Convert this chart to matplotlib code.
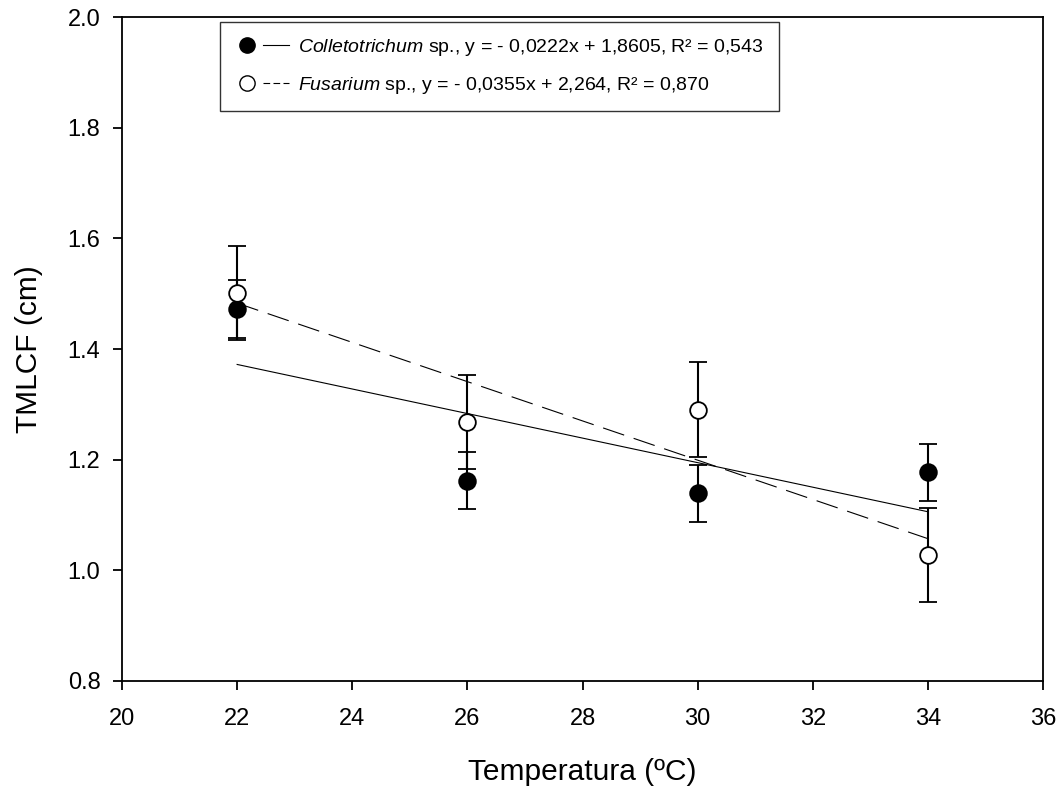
import matplotlib
matplotlib.use("Agg")
import matplotlib.pyplot as plt
from matplotlib.lines import Line2D
from matplotlib.legend_handler import HandlerTuple
import numpy as np

plt.rcParams['font.family'] = ['Liberation Sans', 'DejaVu Sans']
plt.rcParams['mathtext.fontset'] = 'custom'
plt.rcParams['mathtext.it'] = 'Liberation Sans:italic'
plt.rcParams['mathtext.rm'] = 'Liberation Sans'

temperatura = [22, 26, 30, 34]

colle = [1.472, 1.162, 1.139, 1.177]
colle_err = [0.052, 0.051, 0.052, 0.051]
fusa = [1.501, 1.268, 1.290, 1.027]
fusa_err = [0.085, 0.085, 0.086, 0.085]

# rectas de regresion (pendiente, intercepto)
colle_fit = (-0.0222, 1.8605)
fusa_fit = (-0.0355, 2.264)

fig = plt.figure(figsize=(10.62, 7.91), dpi=100)
ax = fig.add_axes([0.1149, 0.1394, 0.8672, 0.8387])

xr = np.array([min(temperatura), max(temperatura)])
ax.plot(xr, colle_fit[0] * xr + colle_fit[1], color='black', lw=0.8, zorder=2)
ax.plot(xr, fusa_fit[0] * xr + fusa_fit[1], color='black', lw=0.8,
        linestyle=(0, (20, 9)), zorder=2)

ax.errorbar(temperatura, colle, yerr=colle_err, fmt='o', color='black',
            mfc='black', mec='black', ms=12, mew=1.3, ecolor='black',
            elinewidth=1.5, capsize=6.5, capthick=1.5, zorder=3)
ax.errorbar(temperatura, fusa, yerr=fusa_err, fmt='o', color='black',
            mfc='white', mec='black', ms=12, mew=1.3, ecolor='black',
            elinewidth=1.5, capsize=6.5, capthick=1.5, zorder=3)

ax.set_xlim(20, 36)
ax.set_ylim(0.8, 2.0)
ax.set_xticks(range(20, 37, 2))
ax.set_yticks(np.arange(0.8, 2.01, 0.2))
ax.set_yticklabels([f"{v:.1f}" for v in np.arange(0.8, 2.01, 0.2)])
ax.tick_params(direction='out', length=6.5, width=1.3, labelsize=17,
               top=False, right=False, pad=9)
ax.tick_params(axis='x', pad=13)
for s in ax.spines.values():
    s.set_linewidth(1.3)

ax.set_xlabel('Temperatura (ºC)', fontsize=21.5, labelpad=20)
ax.set_ylabel('TMLCF (cm)', fontsize=21.5, labelpad=18)

h1 = (Line2D([], [], marker='o', ls='none', mfc='black', mec='black', ms=11),
      Line2D([], [], color='black', lw=0.8))
h2 = (Line2D([], [], marker='o', ls='none', mfc='white', mec='black', ms=11),
      Line2D([], [], color='black', lw=0.8, linestyle=(0, (6, 3))))
labels = [r'$\it{Colletotrichum}$ sp., y = - 0,0222x + 1,8605, R² = 0,543',
          r'$\it{Fusarium}$ sp., y = - 0,0355x + 2,264, R² = 0,870']
leg = ax.legend([h1, h2], labels, handler_map={tuple: HandlerTuple(ndivide=None, pad=0.2)},
                loc='upper left', bbox_to_anchor=(0.106, 0.993), fontsize=14,
                frameon=True, fancybox=False, edgecolor='black', handlelength=2.8,
                handletextpad=0.5, borderpad=0.75, labelspacing=0.9, borderaxespad=0)
leg.get_frame().set_linewidth(1.0)

fig.savefig('out.png', dpi=100)
